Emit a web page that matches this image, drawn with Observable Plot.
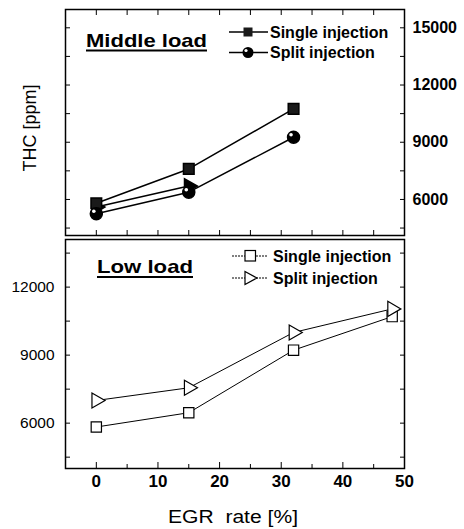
<!DOCTYPE html>
<html><head><meta charset="utf-8">
<script src="https://cdn.jsdelivr.net/npm/d3@7"></script>
<script src="https://cdn.jsdelivr.net/npm/@observablehq/plot@0.6"></script>
<style>
body{margin:0;background:#fff}
#wrap{position:relative;width:464px;height:529px;font-family:"Liberation Sans",Arial,sans-serif}
#wrap > svg{position:absolute;left:0}
#overlay{top:0;pointer-events:none}
</style></head><body><div id="wrap"></div>
<script>
// ---- data ----
const egr = [0, 15, 32, 48];
const midSingle = [5800, 7600, 10750];
const midSplit = [5250, 6380, 9260];
const midExtra = [5600, 6700];           // short black-triangle trace in the middle-load panel
const lowSingle = [5830, 6460, 9220, 10700];
const lowSplit = [7000, 7560, 10000, 11040];
const xMajor = [0, 10, 20, 30, 40, 50];
const xMinor = [5, 15, 25, 35, 45];
const xTopTicks = [0, 5, 10, 15, 20, 25, 30, 35, 40, 45];
const midYTicks = [6000, 9000, 12000, 15000];
const midYMinor = [4500, 7500, 10500, 13500];
const lowYTicks = [6000, 9000, 12000];
const lowYMinor = [4500, 7500, 10500, 13500];
const labels = {mid: "Middle load", low: "Low load", single: "Single injection", split: "Split injection", y: "THC [ppm]", x: "EGR\u00a0\u00a0rate [%]"};

const toPts = (ys) => ys.map((y, i) => ({x: egr[i], y}));
const FONT = "'Liberation Sans', Arial, sans-serif";
const blank = () => "";

const wrap = document.getElementById("wrap");

// ---- top panel: middle load ----
const topPlot = Plot.plot({
  width: 464, height: 237, marginTop: 9, marginBottom: 2, marginLeft: 65, marginRight: 60,
  x: {domain: [-5, 50]}, y: {domain: [4110, 15960]},
  style: {fontFamily: FONT, overflow: "visible", background: "transparent"},
  marks: [
    Plot.axisX(xTopTicks, {anchor: "top", tickSize: -5, tickFormat: blank, label: null}),
    Plot.axisX(xTopTicks, {anchor: "bottom", tickSize: -5, tickFormat: blank, label: null}),
    Plot.axisY([...midYTicks, ...midYMinor], {anchor: "left", tickSize: -5, tickFormat: blank, label: null}),
    Plot.axisY([...midYTicks, ...midYMinor], {anchor: "right", tickSize: -5, tickFormat: blank, label: null}),
    Plot.axisY(midYTicks, {anchor: "right", tickSize: 0, tickPadding: 8, label: null, fontSize: 16, fontWeight: "bold", tickFormat: d => String(d)}),
    Plot.frame({stroke: "black", strokeWidth: 1.5}),
    Plot.line(toPts(midExtra), {x: "x", y: "y", stroke: "black", strokeWidth: 1.5}),
    Plot.dot(toPts(midExtra), {x: "x", y: "y", symbol: "triangle", rotate: 90, r: 5.5, fill: "black", stroke: "black"}),
    Plot.line(toPts(midSingle), {x: "x", y: "y", stroke: "black", strokeWidth: 1.5}),
    Plot.line(toPts(midSplit), {x: "x", y: "y", stroke: "black", strokeWidth: 1.5}),
    Plot.dot(toPts(midSingle), {x: "x", y: "y", symbol: "square", r: 6, fill: "#1a1a1a", stroke: "black"}),
    Plot.dot(toPts(midSplit), {x: "x", y: "y", symbol: "circle", r: 6, fill: "black", stroke: "black"}),
    Plot.dot(toPts(midSplit), {x: "x", y: "y", symbol: "circle", r: 1.8, fill: "white", dx: -2.5, dy: -2.5})
  ]
});
topPlot.style.top = "0px";
wrap.appendChild(topPlot);

// ---- bottom panel: low load ----
const botPlot = Plot.plot({
  width: 464, height: 292, marginTop: 2, marginBottom: 61, marginLeft: 65, marginRight: 60,
  x: {domain: [-5, 50]}, y: {domain: [4000, 14100]},
  style: {fontFamily: FONT, overflow: "visible", background: "transparent"},
  marks: [
    Plot.axisX(xMajor, {anchor: "bottom", tickSize: -6, tickFormat: blank, label: null}),
    Plot.axisX(xMinor, {anchor: "bottom", tickSize: -4, tickFormat: blank, label: null}),
    Plot.axisX(xMajor, {anchor: "bottom", tickSize: 0, tickPadding: 6, label: null, fontSize: 17, fontWeight: "bold"}),
    Plot.axisY([...lowYTicks, ...lowYMinor], {anchor: "left", tickSize: -5, tickFormat: blank, label: null}),
    Plot.axisY([...lowYTicks, ...lowYMinor], {anchor: "right", tickSize: -5, tickFormat: blank, label: null}),
    Plot.axisY(lowYTicks, {anchor: "left", tickSize: 0, tickPadding: 11, label: null, fontSize: 15.5, tickFormat: d => String(d)}),
    Plot.frame({stroke: "black", strokeWidth: 1.5}),
    Plot.line(toPts(lowSingle), {x: "x", y: "y", stroke: "black", strokeWidth: 1}),
    Plot.line(toPts(lowSplit), {x: "x", y: "y", stroke: "black", strokeWidth: 1}),
    Plot.dot(toPts(lowSingle), {x: "x", y: "y", symbol: "square", r: 5.8, fill: "white", stroke: "black", strokeWidth: 1.2}),
    Plot.dot(toPts(lowSplit), {x: "x", y: "y", symbol: "triangle", rotate: 90, r: 5.6, fill: "white", stroke: "black", strokeWidth: 1.2})
  ]
});
botPlot.style.top = "237px";
wrap.appendChild(botPlot);

// ---- overlay: titles, legends, axis titles ----
const ns = "http://www.w3.org/2000/svg";
const ov = document.createElementNS(ns, "svg");
ov.setAttribute("id", "overlay");
ov.setAttribute("width", 464); ov.setAttribute("height", 529);
ov.style.fontFamily = FONT;
wrap.appendChild(ov);
function el(tag, attrs, text) {
  const e = document.createElementNS(ns, tag);
  for (const k in attrs) e.setAttribute(k, attrs[k]);
  if (text != null) e.textContent = text;
  ov.appendChild(e);
  return e;
}
// panel titles (underlined bold)
el("text", {x: 86, y: 46.5, "font-size": 19, "font-weight": "bold", textLength: 121, lengthAdjust: "spacingAndGlyphs"}, labels.mid);
el("line", {x1: 86, x2: 207, y1: 50.5, y2: 50.5, stroke: "black", "stroke-width": 2});
el("text", {x: 97, y: 273, "font-size": 19, "font-weight": "bold", textLength: 96, lengthAdjust: "spacingAndGlyphs"}, labels.low);
el("line", {x1: 97, x2: 193, y1: 277, y2: 277, stroke: "black", "stroke-width": 2});

// top legend (filled markers)
el("line", {x1: 229, x2: 268, y1: 32, y2: 32, stroke: "black", "stroke-width": 1.5});
el("rect", {x: 243.5, y: 27.5, width: 9, height: 9, fill: "#1a1a1a"});
el("text", {x: 270, y: 37.5, "font-size": 16, "font-weight": "bold"}, labels.single);
el("line", {x1: 229, x2: 268, y1: 52.5, y2: 52.5, stroke: "black", "stroke-width": 1.5});
el("circle", {cx: 248, cy: 52.5, r: 5.5, fill: "black"});
el("circle", {cx: 246, cy: 50.5, r: 1.6, fill: "white"});
el("text", {x: 270, y: 58, "font-size": 16, "font-weight": "bold"}, labels.split);

// bottom legend (open markers, dotted lines)
el("line", {x1: 232, x2: 268, y1: 256, y2: 256, stroke: "black", "stroke-width": 1, "stroke-dasharray": "2,1"});
el("rect", {x: 245, y: 250.5, width: 10.5, height: 10.5, fill: "white", stroke: "black", "stroke-width": 1.2});
el("text", {x: 273, y: 261.5, "font-size": 16, "font-weight": "bold"}, labels.single);
el("line", {x1: 232, x2: 268, y1: 278, y2: 278, stroke: "black", "stroke-width": 1, "stroke-dasharray": "2,1"});
el("path", {d: "M245,271.5 L257,278 L245,284.5 Z", fill: "white", stroke: "black", "stroke-width": 1.2});
el("text", {x: 273, y: 283.5, "font-size": 16, "font-weight": "bold"}, labels.split);

// axis titles
el("text", {transform: "translate(36,128) rotate(-90)", "text-anchor": "middle", "font-size": 18}, labels.y);
el("text", {x: 168, y: 523, "font-size": 17.5, textLength: 130, lengthAdjust: "spacingAndGlyphs"}, labels.x);
</script>
</body></html>
